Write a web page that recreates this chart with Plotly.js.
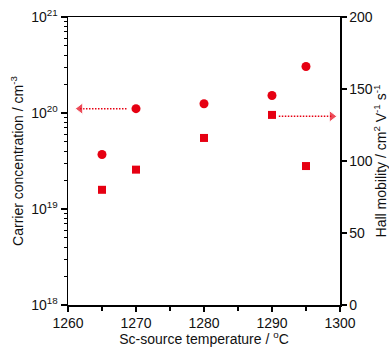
<!DOCTYPE html>
<html><head><meta charset="utf-8">
<script src="https://cdn.plot.ly/plotly-3.0.1.min.js"></script>
<style>html,body{margin:0;padding:0;background:#fff}#c{width:389px;height:347px}</style>
</head><body><div id="c"></div>
<script>
const temperature = [1265, 1270, 1280, 1290, 1295];
const carrierConc = [3.7e19, 1.11e20, 1.25e20, 1.52e20, 3.05e20];
const hallMobility = [80, 94, 116, 132, 96.5];
const leftArrowX = [1268.6, 1261.8];
const leftArrowY = [1.11e20, 1.11e20];
const rightArrowX = [1291.0, 1298.8];
const rightArrowY = [131, 131];
const yMajor = [1e18, 1e19, 1e20, 1e21];
const yMajorText = ['10<sup>18</sup>', '10<sup>19</sup>', '10<sup>20</sup>', '10<sup>21</sup>'];

const red = '#e60012';
const yMinor = [];
for (let d = 18; d < 21; d++) for (let k = 2; k <= 9; k++) yMinor.push(k * Math.pow(10, d));

const traces = [
  {x: temperature, y: carrierConc, type: 'scatter', mode: 'markers',
   marker: {symbol: 'circle', size: 9, color: red}, yaxis: 'y', showlegend: false},
  {x: temperature, y: hallMobility, type: 'scatter', mode: 'markers',
   marker: {symbol: 'square', size: 8, color: red}, yaxis: 'y2', showlegend: false},
  {x: leftArrowX, y: leftArrowY, type: 'scatter', mode: 'lines+markers',
   line: {color: red, width: 1.5, dash: '1.5px,1.5px'},
   marker: {symbol: ['circle', 'triangle-left'], size: [0, 10], color: red}, yaxis: 'y', showlegend: false},
  {x: rightArrowX, y: rightArrowY, type: 'scatter', mode: 'lines+markers',
   line: {color: red, width: 1.5, dash: '1.5px,1.5px'},
   marker: {symbol: ['circle', 'triangle-right'], size: [0, 10], color: red}, yaxis: 'y2', showlegend: false}
];

const font = {family: 'Liberation Sans, Arial, sans-serif', size: 14, color: '#111'};
const layout = {
  width: 389, height: 347,
  margin: {l: 68, r: 49, t: 17, b: 42, pad: 0},
  paper_bgcolor: '#fff', plot_bgcolor: '#fff',
  font: font,
  showlegend: false,
  xaxis: {
    range: [1260, 1300], tickvals: [1260, 1270, 1280, 1290, 1300],
    ticks: 'outside', ticklen: 5, tickwidth: 1.5, tickcolor: '#000',
    minor: {tickvals: [1265, 1275, 1285, 1295], ticks: 'outside', ticklen: 4, tickwidth: 1.5, tickcolor: '#000'},
    showline: true, linecolor: '#000', linewidth: 1.5, mirror: true,
    showgrid: false, zeroline: false,
    tickfont: font,
    title: {text: 'Sc-source temperature / <sup>o</sup>C', font: font, standoff: 5}
  },
  yaxis: {
    type: 'log', range: [18, 21],
    tickmode: 'array', tickvals: yMajor, ticktext: yMajorText,
    ticks: 'outside', ticklen: 6, tickwidth: 1.5, tickcolor: '#000',
    minor: {tickvals: yMinor, ticks: 'outside', ticklen: 3, tickwidth: 1, tickcolor: '#000', showgrid: false},
    showline: true, linecolor: '#000', linewidth: 1.5,
    showgrid: false, zeroline: false,
    tickfont: font,
    title: {text: 'Carrier concentration / cm<sup>-3</sup>', font: font, standoff: 4}
  },
  yaxis2: {
    overlaying: 'y', side: 'right', range: [0, 200],
    tickvals: [0, 50, 100, 150, 200],
    ticks: 'outside', ticklen: 5, tickwidth: 1.5, tickcolor: '#000',
    showline: true, linecolor: '#000', linewidth: 1.5,
    showgrid: false, zeroline: false,
    tickfont: font,
    title: {text: 'Hall mobility / cm<sup>2</sup> V<sup>-1</sup> s<sup>-1</sup>', font: font, standoff: 4}
  }
};
Plotly.newPlot('c', traces, layout, {displayModeBar: false, staticPlot: true});
</script></body></html>
